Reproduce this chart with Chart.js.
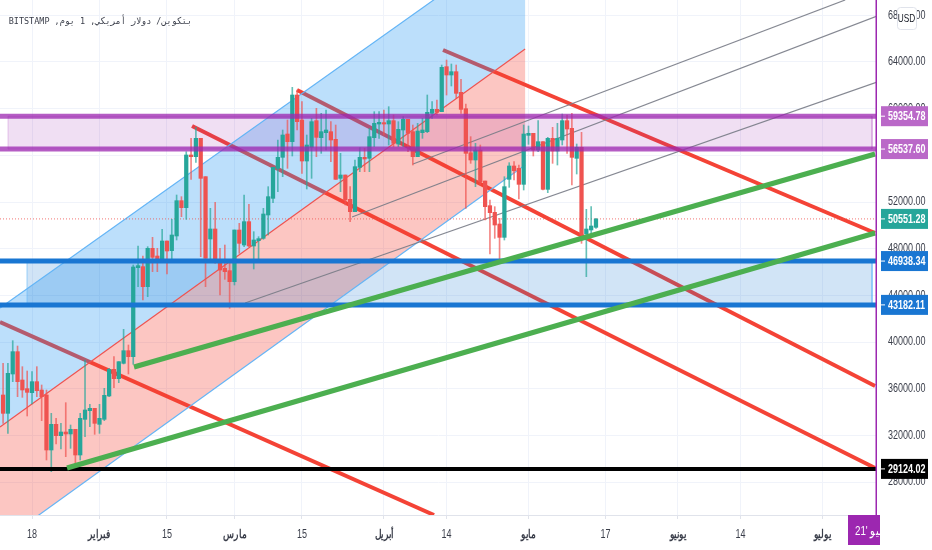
<!DOCTYPE html>
<html>
<head>
<meta charset="utf-8">
<title>BTCUSD</title>
<style>
  html, body { margin: 0; padding: 0; background: #fff; overflow: hidden; }
  canvas { display: block; }
</style>
<script src="https://cdn.jsdelivr.net/npm/chart.js@4"></script>
</head>
<body>
<canvas id="myChart" width="932" height="550"></canvas>
<script>
// x values are days counted from 18 Jan 2021
var firstDay = -6;
var opens = [
  35459,33887,37258,39173,36744,36001,35659,36601,35887,35459,
  30744,32944,31973,32287,32116,32516,30316,33373,34116,34316,
  32944,33373,35373,37658,36858,38173,39258,38744,46372,46458,
  44744,48029,47372,47087,48658,47830,49087,52115,51515,56029,
  55887,57458,54172,48829,49687,47029,46315,46115,45172,49601,
  48315,50315,48229,48686,48887,50887,52315,54886,55829,57829,
  57171,61171,59028,55514,56685,58971,57514,57943,58028,57371,
  54028,54314,52228,51171,54971,55828,55743,57514,58685,58800,
  58685,58971,56971,58171,59085,58028,55885,57943,58028,59600,
  59942,59742,63600,62885,63171,61400,59999,56228,55600,56457,
  53800,51686,51114,50114,48971,53943,55086,54886,53514,57714,
  57886,56457,57171,53086,57457,56371,57314,58971,58314,55743,
  56685,49257,49600,49829
];
var highs = [
  38173,38173,40115,39658,37887,37516,37458,37887,36316,35887,
  33887,33459,33030,34801,32887,32516,33887,38458,34659,34316,
  34659,36030,37744,38744,38315,41087,39744,46600,48229,47372,
  48172,48972,48029,49658,48658,50515,52601,52458,56315,57458,
  58400,57458,54172,51458,51972,48029,48315,46744,49601,50172,
  52601,51801,49458,49029,51458,53315,54972,57315,58172,59029,
  61828,61600,60600,57742,59171,60028,59600,59885,58885,58600,
  56171,54314,53314,55600,56657,56600,58314,59742,59742,59885,
  60171,59457,58885,59314,59085,58600,58743,59171,61171,60600,
  60743,63742,64171,63828,63742,62514,60400,57600,57028,56885,
  53800,52171,51600,50600,54171,55371,55457,55171,58600,58514,
  57886,58971,57171,57543,58400,58743,59543,59457,59600,56971,
  57971,51371,51600,50600
];
var lows = [
  33030,32173,36601,35316,35258,33659,34687,35316,33259,29887,
  28888,31259,30830,30173,30887,29173,29887,31887,32744,32087,
  32173,33259,35316,36087,36515,38115,37258,38087,44744,43601,
  43887,46030,46030,47029,45830,47029,48744,50744,50515,53944,
  55400,47315,44744,47029,46744,44029,45372,42887,44887,47601,
  48172,48172,46258,46801,48801,49172,51944,52886,54172,54886,
  55943,58171,54457,53114,54028,55885,56171,56457,55457,53942,
  52886,51743,50314,51171,54600,54600,54600,56742,57457,57743,
  56885,56742,56742,56742,56314,55171,55885,57457,57943,59171,
  59457,59742,61171,61942,60885,59600,51457,55314,53314,53457,
  50457,47543,48886,46886,48743,53257,53886,52257,53028,56943,
  55943,56314,53028,52800,55314,55171,56885,56171,53457,54400,
  48457,45600,49314,49743
];
var closes = [
  33887,37316,39173,36601,35887,35687,36601,35830,35316,30744,
  32944,31973,32287,32116,32516,30316,33459,34173,34316,33030,
  33459,35430,37658,36858,38315,39258,38744,46429,46544,44744,
  48029,47258,47087,48658,47801,49172,52115,51515,56029,55887,
  57458,54029,47172,49687,46887,46172,46029,45172,49601,48458,
  50315,48229,48744,48858,50972,52458,54972,55829,57744,57172,
  61171,58886,55514,56885,58885,57543,58028,58171,57314,53942,
  54314,52171,51171,55028,55828,55685,57600,58743,58828,58685,
  58971,57028,58228,59085,57885,55885,58085,58171,59686,59942,
  59686,63542,62885,63171,61314,59942,56171,55600,56457,53743,
  51600,51086,50028,48971,53314,55086,54686,53514,57828,57886,
  56457,57171,53086,57457,56371,57457,58971,58257,55828,56685,
  49171,49686,49943,50543
];

var priceTicks = [28000,32000,36000,40000,44000,48000,52000,56000,60000,64000,68000];
var dayTicks = [0,14,28,42,56,73,86,103,119,134,147,164];
var dayLabels = ['18','فبراير','15','مارس','15','أبريل','14','مايو','17','يونيو','14','يوليو'];
var monthTicks = [14,42,73,103,134,164];

var purpleLevels = [59354.78,56537.60];
var blueLevels = [46938.34,43182.11];
var blackLevel = 29124.02;
var lastPrice = 50551.28;
var cursorDay = 175.3;

// trend lines as [day, price, day, price]
var redLines = [
  [85.27,65029,174.9,49344],
  [54.98,61600,174.9,36231],
  [33.2,58515,174.9,29200],
  [-6.64,41715,83.4,25173]
];
var greyLines = [
  [79.05,55258,168.7,69314],
  [66.4,50715,175.3,67943],
  [44.2,43344,175.3,62286]
];
var greenLines = [
  [21.16,37859,174.9,56115],
  [7.26,29202,174.9,49344]
];
var channelUpper = [-6.64,42915,102.3,74885];
var channelMiddle = [-6.64,32716,102.3,65114];
var channelLower = [-6.64,22774,102.3,55172];
var purpleZone = [-4.98,174.27];
var blueZone = [-1.04,174.27];

var greenColor = '#26a69a';
var redColor = '#ef5350';
var greenWick = 'rgba(38,166,154,0.7)';
var redWick = 'rgba(239,83,80,0.7)';
var uiFont = '"Liberation Sans", sans-serif';
var textSqueeze = 0.75; // the reference text is narrow

function lineSet(seg, color, width, order, extra) {
  return Object.assign({
    type: 'line',
    data: [{x: seg[0], y: seg[1]}, {x: seg[2], y: seg[3]}],
    borderColor: color,
    borderWidth: width,
    pointRadius: 0,
    fill: false,
    tension: 0,
    order: order
  }, extra || {});
}

function shapeSet(a, b, color, order) {
  return {
    type: 'line',
    data: [{x: a[0], y: a[1]}, {x: a[2], y: a[3]}, {x: b[2], y: b[3]}, {x: b[0], y: b[1]}, {x: a[0], y: a[1]}],
    borderWidth: 0,
    borderColor: 'rgba(0,0,0,0)',
    backgroundColor: color,
    pointRadius: 0,
    fill: 'shape',
    tension: 0,
    order: order
  };
}

function zoneSet(days, top, bottom, fillColor, edgeColor, order) {
  return {
    type: 'line',
    data: [{x: days[0], y: top}, {x: days[1], y: top}, {x: days[1], y: bottom}, {x: days[0], y: bottom}, {x: days[0], y: top}],
    borderWidth: 1,
    borderColor: edgeColor,
    backgroundColor: fillColor,
    pointRadius: 0,
    fill: 'shape',
    tension: 0,
    order: order
  };
}

function hLine(price, color, width, order, extra) {
  return lineSet([-6.64, price, cursorDay, price], color, width, order, extra);
}

var wickData = [], bodyData = [], wickColors = [], bodyColors = [];
opens.forEach(function (o, i) {
  var day = firstDay + i, up = closes[i] >= o;
  wickData.push({x: day, y: [lows[i], highs[i]]});
  bodyData.push({x: day, y: [o, closes[i]]});
  wickColors.push(up ? greenWick : redWick);
  bodyColors.push(up ? greenColor : redColor);
});

var datasets = [];
redLines.forEach(function (s) { datasets.push(lineSet(s, '#f44336', 4, 90)); });
datasets.push(shapeSet(channelUpper, channelMiddle, 'rgba(33,150,243,0.3)', 80));
datasets.push(shapeSet(channelMiddle, channelLower, 'rgba(244,67,54,0.3)', 80));
datasets.push(zoneSet(purpleZone, purpleLevels[0], purpleLevels[1], 'rgba(156,39,176,0.15)', 'rgba(186,104,200,0.35)', 75));
datasets.push(zoneSet(blueZone, blueLevels[0], blueLevels[1], 'rgba(25,118,210,0.2)', 'rgba(100,181,246,0.6)', 75));
datasets.push(lineSet(channelUpper, '#64b5f6', 1.2, 70));
datasets.push(lineSet(channelLower, '#64b5f6', 1.2, 70));
datasets.push(lineSet(channelMiddle, '#ef5350', 1.2, 70));
greyLines.forEach(function (s) { datasets.push(lineSet(s, 'rgba(120,123,134,0.9)', 1.2, 65)); });
datasets.push(hLine(lastPrice, 'rgba(239,83,80,0.8)', 1, 60, {borderDash: [1, 2]}));
datasets.push({type: 'bar', data: wickData, backgroundColor: wickColors, barThickness: 1, grouped: false, order: 50});
datasets.push({type: 'bar', data: bodyData, backgroundColor: bodyColors, barThickness: 3.6, grouped: false, order: 49});
purpleLevels.forEach(function (p) { datasets.push(hLine(p, 'rgba(156,39,176,0.75)', 5, 40)); });
blueLevels.forEach(function (p) { datasets.push(hLine(p, '#1976d2', 5, 40)); });
datasets.push(hLine(blackLevel, '#000000', 4, 40));
greenLines.forEach(function (s) { datasets.push(lineSet(s, '#4caf50', 5, 30)); });
datasets.push(lineSet([cursorDay, 25173, cursorDay, 69314], '#9c27b0', 3, 20));

function squeezedText(ctx, text, x, y) {
  ctx.save();
  ctx.translate(x, y);
  ctx.scale(textSqueeze, 1);
  ctx.fillText(text, 0, 0);
  ctx.restore();
}

// axis labels are narrow too: squeeze each one around its own anchor
function squeezeLabels(s) {
  if (s.squeezed) return;
  s.squeezed = true;
  var draw = s.drawLabels;
  s.drawLabels = function (area) {
    var c = this.ctx, fill = c.fillText;
    c.fillText = function (t, x, y) {
      c.save();
      c.scale(textSqueeze, 1);
      fill.call(c, t, x, y);
      c.restore();
    };
    draw.call(this, area);
    delete c.fillText;
  };
}

var overlay = {
  id: 'overlay',
  afterDraw: function (chart) {
    var ctx = chart.ctx, y = chart.scales.y;
    var tags = [
      [purpleLevels[0], '#ba68c8'],
      [purpleLevels[1], '#ba68c8'],
      [lastPrice, greenColor],
      [blueLevels[0], '#1976d2'],
      [blueLevels[1], '#1976d2'],
      [blackLevel, '#000000']
    ];
    ctx.save();
    ctx.textBaseline = 'middle';
    tags.forEach(function (t) {
      var py = y.getPixelForValue(t[0]);
      ctx.fillStyle = t[1];
      ctx.fillRect(881, py - 10, 47, 20);
      ctx.fillStyle = '#fff';
      ctx.fillRect(880, py - 0.5, 5, 1);
      ctx.font = 'bold 12px ' + uiFont;
      ctx.textAlign = 'left';
      squeezedText(ctx, t[0].toFixed(2), 888, py + 0.5);
    });

    // USD button
    ctx.fillStyle = '#fff';
    ctx.strokeStyle = '#e0e3eb';
    ctx.lineWidth = 1;
    ctx.beginPath();
    ctx.roundRect(897.5, 7.5, 19, 22, 3);
    ctx.fill();
    ctx.stroke();
    ctx.fillStyle = '#131722';
    ctx.font = '11px ' + uiFont;
    ctx.textAlign = 'center';
    squeezedText(ctx, 'USD', 906.5, 18.5);

    // symbol title
    ctx.font = '9.5px "DejaVu Sans Mono", "Liberation Mono", monospace';
    ctx.direction = 'rtl';
    ctx.textAlign = 'right';
    ctx.fillStyle = '#3a3e4a';
    ctx.save();
    ctx.translate(192, 22);
    ctx.scale(0.89, 1);
    ctx.fillText('بتكوين/ دولار أمريكي, 1 يوم, BITSTAMP', 0, 0);
    ctx.restore();

    // selected date on the time axis
    ctx.fillStyle = '#9c27b0';
    ctx.fillRect(848, 515, 32, 30);
    ctx.beginPath();
    ctx.rect(848, 515, 33, 30);
    ctx.clip();
    ctx.fillStyle = '#fff';
    ctx.font = '13px ' + uiFont;
    ctx.textAlign = 'left';
    squeezedText(ctx, "يوليو '21", 855, 531);
    ctx.restore();
  }
};

var ctx = document.getElementById('myChart').getContext('2d');
var myChart = new Chart(ctx, {
  type: 'bar',
  data: { datasets: datasets },
  options: {
    responsive: false,
    animation: false,
    layout: { padding: 0, autoPadding: false },
    plugins: { legend: { display: false }, tooltip: { enabled: false }, title: { display: false } },
    events: [],
    scales: {
      x: {
        type: 'linear',
        offset: false,
        min: -6.64,
        max: 175.3,
        afterFit: function (s) {
          s.height = 35;
          s.paddingLeft = 0;
          s.paddingRight = 0;
          squeezeLabels(s);
        },
        afterBuildTicks: function (s) { s.ticks = dayTicks.map(function (v) { return {value: v}; }); },
        grid: { offset: false, color: '#f0f3fa', tickLength: 4, tickColor: '#e0e3eb' },
        border: { color: '#e0e3eb' },
        ticks: {
          autoSkip: false,
          maxRotation: 0,
          padding: 8,
          color: '#3a3e4a',
          font: function (c) {
            var bold = monthTicks.indexOf(c.tick && c.tick.value) >= 0;
            return {family: uiFont, size: 12, weight: bold ? 'bold' : 'normal'};
          },
          callback: function (v) { return dayLabels[dayTicks.indexOf(v)]; }
        }
      },
      y: {
        position: 'right',
        min: 25173,
        max: 69314,
        afterFit: function (s) {
          s.width = 55;
          s.paddingTop = 0;
          s.paddingBottom = 0;
          squeezeLabels(s);
        },
        afterBuildTicks: function (s) { s.ticks = priceTicks.map(function (v) { return {value: v}; }); },
        grid: { color: '#f0f3fa', drawTicks: false },
        border: { display: false },
        ticks: {
          padding: 11,
          color: '#3a3e4a',
          font: { family: uiFont, size: 12 },
          callback: function (v) { return v.toFixed(2); }
        }
      }
    }
  },
  plugins: [overlay]
});
</script>
</body>
</html>
